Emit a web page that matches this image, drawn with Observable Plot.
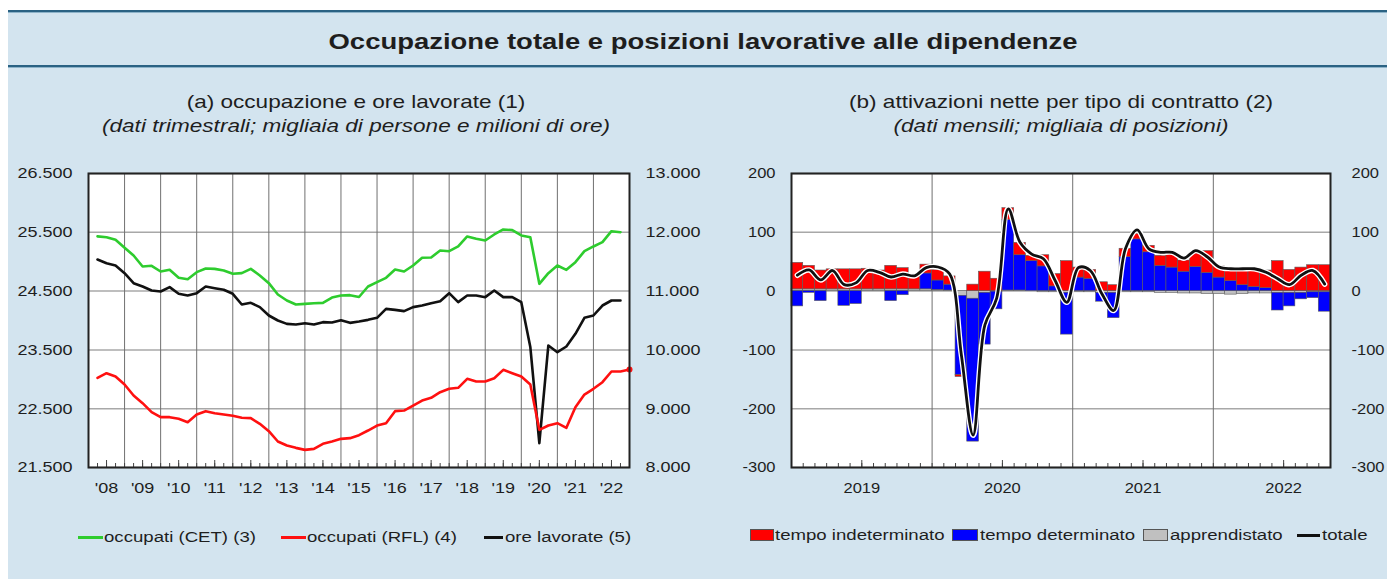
<!DOCTYPE html>
<html lang="it">
<head>
<meta charset="utf-8">
<script src="https://cdn.jsdelivr.net/npm/d3@7"></script>
<script src="https://cdn.jsdelivr.net/npm/@observablehq/plot@0.6"></script>
<style>
html, body { margin:0; padding:0; background:#fff; }
#root { position:relative; width:1387px; height:579px; overflow:hidden; background:#fff;
        font-family:"Liberation Sans", Arial, Helvetica, sans-serif; color:#1e1e1e; }
#bg { position:absolute; left:8px; top:10px; right:0; bottom:0; background:#d3e4ef; }
.rule { position:absolute; left:8px; right:0; height:2px; background:#2a6283; }
.rule2 { position:absolute; left:8px; right:0; height:1px; background:#8db3c9; }
.t { position:absolute; white-space:nowrap; }
.c { text-align:center; transform:scaleX(1.22); transform-origin:50% 50%; }
.l { transform:scaleX(1.2); transform-origin:0 50%; font-size:15.5px; line-height:20px; }
.chart { position:absolute; top:150px; }
.chart svg { overflow:visible; }
.sw { position:absolute; box-sizing:border-box; }
</style>
</head>
<body>
<div id="root">
  <div id="bg"></div>
  <div class="rule" style="top:10px"></div>
  <div class="rule2" style="top:12px"></div>
  <div class="rule" style="top:65px"></div>
  <div class="rule2" style="top:67px"></div>

  <div class="t c" style="left:103px;width:1200px;top:27px;line-height:30px;font-size:22.5px;font-weight:bold;">Occupazione totale e posizioni lavorative alle dipendenze</div>

  <div class="t c" style="left:-44px;width:800px;top:90px;line-height:24px;font-size:18.5px;">(a) occupazione e ore lavorate (1)</div>
  <div class="t c" style="left:-44px;width:800px;top:114px;line-height:24px;font-size:18.5px;font-style:italic;">(dati trimestrali; migliaia di persone e milioni di ore)</div>
  <div class="t c" style="left:661px;width:800px;top:90px;line-height:24px;font-size:18.5px;">(b) attivazioni nette per tipo di contratto (2)</div>
  <div class="t c" style="left:661px;width:800px;top:114px;line-height:24px;font-size:18.5px;font-style:italic;">(dati mensili; migliaia di posizioni)</div>

  <div id="chartA" class="chart" style="left:0px"></div>
  <div id="chartB" class="chart" style="left:715px"></div>

  <div id="legendA"></div>
  <div id="legendB"></div>
</div>

<script>
// ---------------- DATA: panel (a), quarterly from 2008 Q1 ----------------
const startYearA = 2008;
const yearLabelsA = ["'08","'09","'10","'11","'12","'13","'14","'15","'16","'17","'18","'19","'20","'21","'22"];
const leftTicksA = [21500, 22500, 23500, 24500, 25500, 26500];
const rightTicksA = [8000, 9000, 10000, 11000, 12000, 13000];

// occupati (CET), thousands of persons
const occupatiCET = [
  25430, 25417, 25372, 25236,
  25105, 24918, 24930, 24833,
  24862, 24726, 24703, 24822,
  24884, 24878, 24850, 24794,
  24805, 24878, 24765, 24635,
  24442, 24340, 24272, 24283,
  24294, 24300, 24391, 24425,
  24431, 24400, 24578, 24652,
  24726, 24867, 24833, 24935,
  25066, 25072, 25190, 25179,
  25259, 25429, 25389, 25361,
  25463, 25548, 25537, 25446,
  25417, 24624, 24805, 24935,
  24862, 24992, 25179, 25259,
  25332, 25519, 25502
];
// occupati (RFL), thousands of persons
const occupatiRFL = [
  23025, 23104, 23048, 22912,
  22724, 22594, 22441, 22356,
  22356, 22328, 22271, 22401,
  22458, 22424, 22401, 22379,
  22345, 22339, 22243, 22118,
  21942, 21874, 21834, 21800,
  21817, 21903, 21942, 21987,
  21999, 22050, 22129, 22214,
  22254, 22458, 22469, 22554,
  22639, 22685, 22781, 22838,
  22855, 23008, 22963, 22963,
  23019, 23161, 23104, 23048,
  22912, 22140, 22214, 22254,
  22175, 22526, 22741, 22838,
  22951, 23133, 23133, 23167
];
// ore lavorate, millions of hours (right axis)
const oreLavorate = [
  11537, 11475, 11435, 11305,
  11135, 11078, 11010, 10993,
  11067, 10954, 10925, 10965,
  11078, 11050, 11022, 10954,
  10772, 10801, 10727, 10585,
  10500, 10443, 10432, 10454,
  10432, 10472, 10465, 10505,
  10460, 10483, 10511, 10545,
  10698, 10681, 10659, 10727,
  10755, 10795, 10829, 10965,
  10812, 10925, 10925, 10897,
  11010, 10897, 10897, 10812,
  10050, 8413, 10075, 9961,
  10058, 10273, 10545, 10585,
  10755, 10840, 10840
];

// ---------------- DATA: panel (b), monthly from Jan 2019 ----------------
const startYearB = 2019;
const yearLabelsB = ["2019", "2020", "2021", "2022"];
const ticksB = [-300, -200, -100, 0, 100, 200];
const tempoIndeterminato = [
  45, 40, 32, 34, 34, 34, 35, 32, 40, 36, 25, 15,
  18, 14, -3, 11, 33, 21, 20, 21, 9, 19, 21, 51,
  17, 15, 15, 10, 14, 9, 11, 17, 23, 19, 23, 37,
  19, 24, 28, 31, 30, 51, 36, 40, 44, 44
];
const tempoDeterminato = [
  -26, -3, -17, 0, -25, -22, 0, 0, -17, -7, 0, 27,
  16, 10, -135, -243, -88, -30, 120, 60, 51, 42, 8, -71,
  23, 21, -15, -43, 58, 88, 66, 43, 40, 33, 41, 31,
  23, 17, 10, 7, 5, -30, -23, -11, -10, -33
];
const apprendistato = [
  3, 3, 3, 3, 3, 3, 3, 3, 3, 3, 3, 3,
  2, 1, -8, -13, -3, -1, 1, 1, 0, -2, -2, -3,
  -2, -2, -3, -3, -2, -2, -2, -3, -3, -4, -4, -5,
  -5, -6, -5, -4, -4, -3, -3, -3, -2, -2
];
const totale = [
  27, 36, 19, 35, 11, 14, 35, 32, 24, 29, 26, 40,
  41, 29, -109, -245, -58, -13, 140, 83, 63, 55, 18, -19,
  40, 35, -5, -33, 72, 104, 72, 66, 66, 56, 69, 58,
  41, 38, 38, 38, 32, 21, 11, 27, 35, 12
];

const seriesNamesB = ["apprendistato", "tempo determinato", "tempo indeterminato"];
const seriesColorsB = ["#c0c0c0", "#0000ff", "#ff0000"];

// ---------------- helpers ----------------
const itFmt = d3.formatLocale({decimal: ",", thousands: ".", grouping: [3], currency: ["€", ""]}).format(",.0f");
const FONT = '"Liberation Sans", Arial, Helvetica, sans-serif';
function stretchText(svg, k) {
  svg.querySelectorAll("text").forEach(t => {
    const tr = t.getAttribute("transform") || "";
    t.setAttribute("transform", tr + ` scale(${k},1)`);
  });
}

// ---------------- panel (a) ----------------
const qPos = k => startYearA + (k + 1) / 4;
const kRight = (leftTicksA[leftTicksA.length - 1] - leftTicksA[0]) / (rightTicksA[rightTicksA.length - 1] - rightTicksA[0]);
const toLeft = v => leftTicksA[0] + (v - rightTicksA[0]) * kRight;
const fromLeft = y => rightTicksA[0] + (y - leftTicksA[0]) / kRight;

const rowsCET = occupatiCET.map((v, k) => ({t: qPos(k), v}));
const rowsRFL = occupatiRFL.map((v, k) => ({t: qPos(k), v}));
const rowsOre = oreLavorate.map((v, k) => ({t: qPos(k), v: toLeft(v)}));

const nYearsA = yearLabelsA.length;
const yearStartsA = yearLabelsA.map((s, i) => startYearA + i);
const quarterTicksA = d3.range(0, nYearsA * 4 + 1).map(k => startYearA + k / 4);
const midYearA = yearStartsA.map(y => y + 0.5);

const chartA = Plot.plot({
  width: 710, height: 360,
  marginLeft: 88, marginRight: 81, marginTop: 23, marginBottom: 43,
  style: {background: "transparent", fontFamily: FONT, fontSize: "15px", color: "#1e1e1e", overflow: "visible"},
  x: {domain: [startYearA, startYearA + nYearsA], label: null},
  y: {domain: [leftTicksA[0], leftTicksA[leftTicksA.length - 1]], label: null},
  marks: [
    Plot.frame({fill: "white", stroke: null}),
    Plot.gridY({ticks: leftTicksA, stroke: "#a8a8a8", strokeOpacity: 1, strokeWidth: 1.5}),
    Plot.gridX({ticks: yearStartsA.slice(1), stroke: "#707070", strokeOpacity: 1, strokeWidth: 1}),
    Plot.axisX({ticks: quarterTicksA, tickSize: -4, tickFormat: () => "", stroke: "#444"}),
    Plot.axisX({ticks: midYearA, tickSize: -7, tickFormat: () => "", stroke: "#444"}),
    Plot.line(rowsOre, {x: "t", y: "v", stroke: "#111", strokeWidth: 2.6}),
    Plot.line(rowsCET, {x: "t", y: "v", stroke: "#2ecc2e", strokeWidth: 2.6}),
    Plot.line(rowsRFL, {x: "t", y: "v", stroke: "#ff1010", strokeWidth: 2.6}),
    Plot.dot(rowsRFL.slice(-1), {x: "t", y: "v", r: 3, fill: "#ff1010"}),
    Plot.frame({stroke: "#222", strokeWidth: 2}),
    Plot.axisY({ticks: leftTicksA, anchor: "left", tickSize: 0, tickPadding: 16, tickFormat: itFmt}),
    Plot.axisY({ticks: leftTicksA, anchor: "right", tickSize: 0, tickPadding: 16, tickFormat: d => itFmt(fromLeft(d))}),
    Plot.axisX({ticks: midYearA, tickSize: 0, tickPadding: 15, tickFormat: d => yearLabelsA[Math.floor(d) - startYearA]})
  ]
});
stretchText(chartA, 1.2);
document.getElementById("chartA").appendChild(chartA);

// ---------------- panel (b) ----------------
const nMonthsB = tempoIndeterminato.length;
const seriesB = [apprendistato, tempoDeterminato, tempoIndeterminato];
const rowsBar = [];
for (let i = 0; i < nMonthsB; i++) {
  seriesB.forEach((arr, j) => rowsBar.push({
    x1: startYearB + i / 12, x2: startYearB + (i + 1) / 12, type: seriesNamesB[j], v: arr[i]
  }));
}
const rowsTot = totale.map((v, i) => ({t: startYearB + (i + 0.5) / 12, v}));
const monthTicksB = d3.range(0, nMonthsB + 1).map(i => startYearB + i / 12);
const yearStartsB = yearLabelsB.map((s, i) => startYearB + i);
const midYearB = yearStartsB.map(y => y + 0.5);

const chartB = Plot.plot({
  width: 672, height: 360,
  marginLeft: 76, marginRight: 57, marginTop: 23, marginBottom: 43,
  style: {background: "transparent", fontFamily: FONT, fontSize: "15px", color: "#1e1e1e", overflow: "visible"},
  x: {domain: [startYearB, startYearB + nMonthsB / 12], label: null},
  y: {domain: [ticksB[0], ticksB[ticksB.length - 1]], label: null},
  color: {domain: seriesNamesB, range: seriesColorsB},
  marks: [
    Plot.frame({fill: "white", stroke: null}),
    Plot.gridY({ticks: ticksB, stroke: "#a8a8a8", strokeOpacity: 1, strokeWidth: 1.5}),
    Plot.gridX({ticks: yearStartsB.slice(1), stroke: "#707070", strokeOpacity: 1, strokeWidth: 1}),
    Plot.rectY(rowsBar, {x1: "x1", x2: "x2", y: "v", fill: "type", stroke: "#5a5a5a", strokeWidth: 0.6}),
    Plot.line(rowsTot, {x: "t", y: "v", stroke: "white", strokeWidth: 5.5, curve: "catmull-rom"}),
    Plot.line(rowsTot, {x: "t", y: "v", stroke: "#111", strokeWidth: 2.8, curve: "catmull-rom"}),
    Plot.axisX({ticks: monthTicksB, tickSize: -4, tickFormat: () => "", stroke: "#444"}),
    Plot.axisX({ticks: midYearB, tickSize: -7, tickFormat: () => "", stroke: "#444"}),
    Plot.frame({stroke: "#222", strokeWidth: 2}),
    Plot.axisY({ticks: ticksB, anchor: "left", tickSize: 0, tickPadding: 16, tickFormat: d => String(d)}),
    Plot.axisY({ticks: ticksB, anchor: "right", tickSize: 0, tickPadding: 21, tickFormat: d => String(d)}),
    Plot.axisX({ticks: midYearB, tickSize: 0, tickPadding: 15, tickFormat: d => yearLabelsB[Math.floor(d) - startYearB]})
  ]
});
stretchText(chartB, 1.1);
document.getElementById("chartB").appendChild(chartB);

// ---------------- legends ----------------
function addLegend(containerId, items, cy) {
  const el = document.getElementById(containerId);
  items.forEach(it => {
    const sw = document.createElement("div");
    sw.className = "sw";
    if (it.kind === "line") {
      Object.assign(sw.style, {left: it.x0 + "px", width: (it.x1 - it.x0) + "px", top: (cy - 1.5) + "px", height: "3px", background: it.color});
    } else {
      Object.assign(sw.style, {left: it.x0 + "px", width: (it.x1 - it.x0) + "px", top: (cy - 6) + "px", height: "12px", background: it.color, border: "1px solid #555"});
    }
    el.appendChild(sw);
    const tx = document.createElement("div");
    tx.className = "t l";
    tx.style.left = it.tx + "px";
    tx.style.top = (cy - 10) + "px";
    tx.textContent = it.label;
    el.appendChild(tx);
  });
}
addLegend("legendA", [
  {kind: "line", x0: 78, x1: 103, color: "#2ecc2e", tx: 104, label: "occupati (CET) (3)"},
  {kind: "line", x0: 281, x1: 306, color: "#ff1010", tx: 307, label: "occupati (RFL) (4)"},
  {kind: "line", x0: 484, x1: 503, color: "#111", tx: 505, label: "ore lavorate (5)"}
], 537);
addLegend("legendB", [
  {kind: "box", x0: 750, x1: 774, color: seriesColorsB[2], tx: 775, label: "tempo indeterminato"},
  {kind: "box", x0: 952, x1: 978, color: seriesColorsB[1], tx: 980, label: "tempo determinato"},
  {kind: "box", x0: 1143, x1: 1168, color: seriesColorsB[0], tx: 1170, label: "apprendistato"},
  {kind: "line", x0: 1297, x1: 1320, color: "#111", tx: 1322, label: "totale"}
], 535);
</script>
</body>
</html>
